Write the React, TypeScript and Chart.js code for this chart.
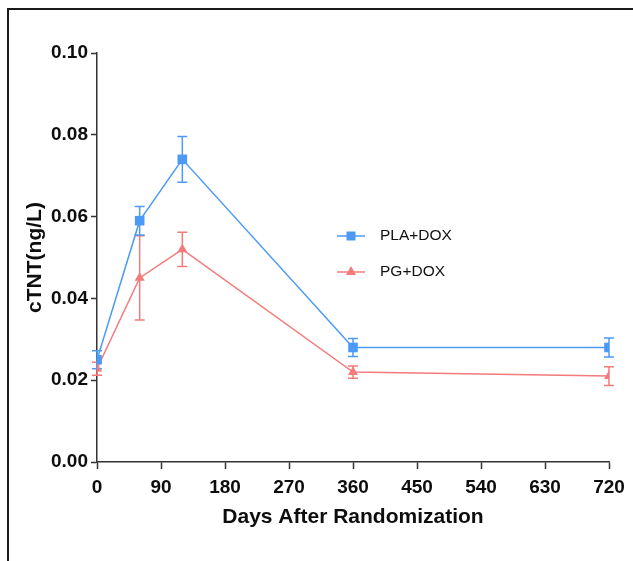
import React, { useEffect, useRef } from "react";
import { Chart, registerables } from "chart.js";

Chart.register(...registerables);

const days = [0, 60, 120, 360, 720];
const plaDox = [0.025, 0.059, 0.074, 0.028, 0.028];
const plaDoxErr = [0.0022, 0.0035, 0.0056, 0.0022, 0.0023];
const pgDox = [0.0228, 0.045, 0.052, 0.022, 0.021];
const pgDoxErr = [0.0016, 0.0103, 0.0042, 0.0015, 0.0023];
const xTickValues = [0, 90, 180, 270, 360, 450, 540, 630, 720];
const seriesNames = ["PLA+DOX", "PG+DOX"];
const xTitle = "Days After Randomization";
const yTitle = "cTNT(ng/L)";

const BLUE = "#4C9AF5";
const RED = "#F27B7B";
const AXIS = "#333333";
const FONT = "'Liberation Sans', Arial, Helvetica, sans-serif";

export default function App() {
  const ref = useRef<HTMLCanvasElement | null>(null);

  useEffect(() => {
    const canvas = ref.current;
    if (!canvas) return;

    const errorBars = {
      id: "errorBars",
      beforeDatasetsDraw(chart: any) {
        const { ctx } = chart;
        const xs = chart.scales.x;
        const ys = chart.scales.y;
        const sets = [
          { v: pgDox, e: pgDoxErr, c: RED },
          { v: plaDox, e: plaDoxErr, c: BLUE },
        ];
        ctx.save();
        ctx.lineWidth = 1.5;
        for (const s of sets) {
          ctx.strokeStyle = s.c;
          days.forEach((d, i) => {
            const x = xs.getPixelForValue(d);
            const yTop = ys.getPixelForValue(s.v[i] + s.e[i]);
            const yBot = ys.getPixelForValue(s.v[i] - s.e[i]);
            const hw = 5;
            ctx.beginPath();
            ctx.moveTo(x, yTop);
            ctx.lineTo(x, yBot);
            ctx.moveTo(x - hw, yTop);
            ctx.lineTo(x + hw, yTop);
            ctx.moveTo(x - hw, yBot);
            ctx.lineTo(x + hw, yBot);
            ctx.stroke();
          });
        }
        ctx.restore();
      },
    };

    const customLegend = {
      id: "customLegend",
      afterDraw(chart: any) {
        const { ctx } = chart;
        const items = [
          { name: seriesNames[0], c: BLUE, shape: "rect", y: 236 },
          { name: seriesNames[1], c: RED, shape: "tri", y: 272 },
        ];
        ctx.save();
        for (const it of items) {
          ctx.strokeStyle = it.c;
          ctx.fillStyle = it.c;
          ctx.lineWidth = 1.5;
          ctx.beginPath();
          ctx.moveTo(337, it.y);
          ctx.lineTo(365, it.y);
          ctx.stroke();
          const cx = 351;
          if (it.shape === "rect") {
            ctx.fillRect(cx - 4.5, it.y - 4.5, 9, 9);
          } else {
            ctx.beginPath();
            ctx.moveTo(cx, it.y - 6);
            ctx.lineTo(cx + 5, it.y + 3);
            ctx.lineTo(cx - 5, it.y + 3);
            ctx.closePath();
            ctx.fill();
          }
          ctx.fillStyle = "#111";
          ctx.font = `15.5px ${FONT}`;
          ctx.textBaseline = "middle";
          ctx.textAlign = "left";
          ctx.fillText(it.name, 380, it.y);
        }
        ctx.restore();
      },
    };

    const chart = new Chart(canvas, {
      type: "line",
      data: {
        datasets: [
          {
            label: seriesNames[0],
            data: days.map((d, i) => ({ x: d, y: plaDox[i] })),
            borderColor: BLUE,
            backgroundColor: BLUE,
            borderWidth: 1.5,
            pointStyle: "rect",
            pointRadius: 6.8,
            pointBorderWidth: 0,
            tension: 0,
          },
          {
            label: seriesNames[1],
            data: days.map((d, i) => ({ x: d, y: pgDox[i] })),
            borderColor: RED,
            backgroundColor: RED,
            borderWidth: 1.5,
            pointStyle: "triangle",
            pointRadius: 5.8,
            pointBorderWidth: 0,
            tension: 0,
          },
        ],
      },
      options: {
        responsive: false,
        animation: false,
        layout: { padding: { left: 0, top: 53, right: 24, bottom: 0 } },
        plugins: { legend: { display: false }, tooltip: { enabled: false } },
        scales: {
          x: {
            type: "linear",
            min: 0,
            max: 720,
            afterFit: (s: any) => {
              s.height = 99;
            },
            afterBuildTicks: (s: any) => {
              s.ticks = xTickValues.map((v) => ({ value: v }));
            },
            ticks: {
              color: "#0d0d0d",
              font: { family: FONT, size: 19, weight: "bold" },
              padding: 7,
              maxRotation: 0,
              autoSkip: false,
            },
            grid: {
              display: true,
              drawOnChartArea: false,
              drawTicks: true,
              tickLength: 7,
              tickColor: AXIS,
              tickWidth: 1.5,
            },
            border: { display: true, color: AXIS, width: 1.5 },
            title: {
              display: true,
              text: xTitle,
              color: "#0d0d0d",
              font: { family: FONT, size: 21, weight: "bold" },
              padding: { top: 0, bottom: 31 },
            },
          },
          y: {
            type: "linear",
            min: 0,
            max: 0.1,
            afterFit: (s: any) => {
              s.width = 97;
            },
            ticks: {
              stepSize: 0.02,
              color: "#0d0d0d",
              font: { family: FONT, size: 19, weight: "bold" },
              padding: 3,
              callback: (v: any) => Number(v).toFixed(2),
            },
            grid: {
              display: true,
              drawOnChartArea: false,
              drawTicks: true,
              tickLength: 6,
              tickColor: AXIS,
              tickWidth: 1.5,
            },
            border: { display: true, color: AXIS, width: 1.5 },
            title: {
              display: true,
              text: yTitle,
              color: "#0d0d0d",
              font: { family: FONT, size: 21, weight: "bold" },
              padding: { top: 23, bottom: 0 },
            },
          },
        },
      },
      plugins: [errorBars, customLegend],
    } as any);

    return () => chart.destroy();
  }, []);

  return (
    <div
      style={{
        position: "fixed",
        left: 0,
        top: 0,
        width: 633,
        height: 561,
        background: "#fff",
        overflow: "hidden",
      }}
    >
      <canvas ref={ref} width={633} height={561} style={{ position: "absolute", left: 0, top: 0 }} />
      <div
        style={{
          position: "absolute",
          left: 7,
          top: 8,
          width: 700,
          height: 700,
          borderTop: "2px solid #1a1a1a",
          borderLeft: "2px solid #1a1a1a",
          pointerEvents: "none",
        }}
      />
    </div>
  );
}
